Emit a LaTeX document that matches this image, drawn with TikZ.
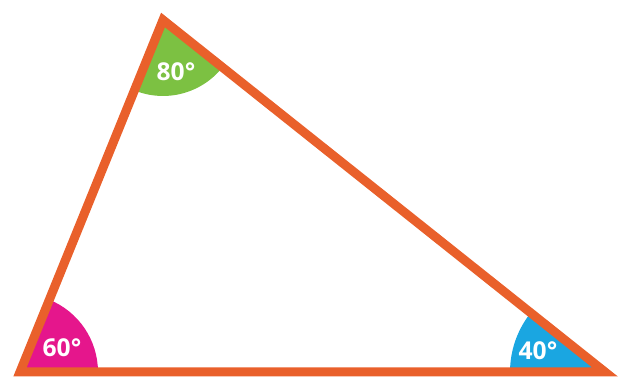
\documentclass[tikz,border=0pt]{standalone}
\usepackage{xcolor}
\usepackage{fontspec}
\setsansfont{Open Sans}
\usepackage{tikz}
\usetikzlibrary{angles}
\definecolor{triorange}{HTML}{E9602B}
\definecolor{angreen}{HTML}{7CC142}
\definecolor{anpink}{HTML}{E5168C}
\definecolor{ancyan}{HTML}{1AA6E1}
\tikzset{anglabel/.style={text=white,font=\sffamily\bfseries\fontsize{14}{14}\selectfont}}

\begin{document}
\begin{tikzpicture}[x=0.02cm,y=0.02cm]
\useasboundingbox (0,0) rectangle (623,381);
\coordinate (top) at (163,361);
\coordinate (left) at (20,9);
\coordinate (right) at (605,9);
\pic[fill=angreen, draw=none, angle radius=1.52cm] {angle=left--top--right};
\pic[fill=anpink, draw=none, angle radius=1.56cm] {angle=right--left--top};
\pic[fill=ancyan, draw=none, angle radius=1.9cm] {angle=top--right--left};
\draw[line width=9*0.02cm, triorange, line join=miter] (top) -- (left) -- (right) -- cycle;
\node[anglabel] (a80) at (176,309) {80°};
\node[anglabel] (a60) at (62,33) {60°};
\node[anglabel] (a40) at (538,30) {40°};
\end{tikzpicture}
\end{document}
